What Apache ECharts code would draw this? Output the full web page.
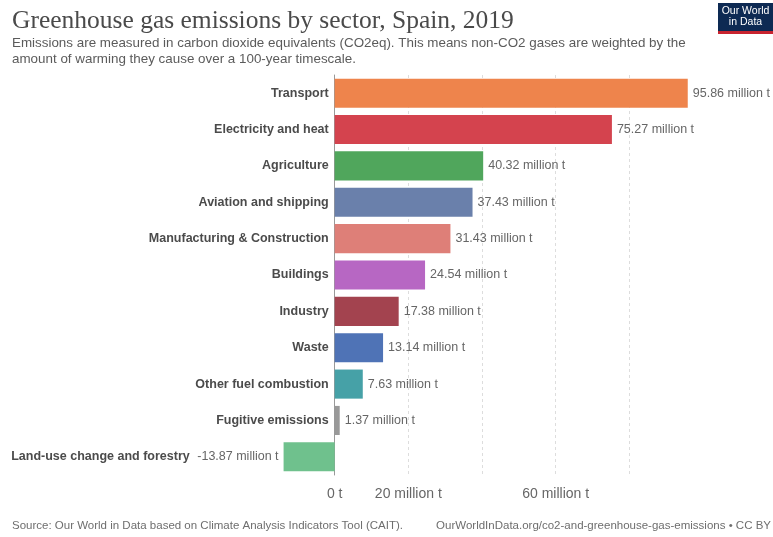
<!DOCTYPE html>
<html>
<head>
<meta charset="utf-8">
<script src="https://cdn.jsdelivr.net/npm/echarts@6/dist/echarts.min.js"></script>
<style>
html,body{margin:0;padding:0;background:#fff;}
#chart{width:773px;height:537px;}
</style>
</head>
<body>
<div id="chart"></div>
<script>
const categories = ["Transport","Electricity and heat","Agriculture","Aviation and shipping","Manufacturing & Construction","Buildings","Industry","Waste","Other fuel combustion","Fugitive emissions","Land-use change and forestry"];
const values = [95.86, 75.27, 40.32, 37.43, 31.43, 24.54, 17.38, 13.14, 7.63, 1.37, -13.87];
const colors = ["#ee844c","#d4434e","#50a65c","#6a80ab","#de7f78","#b767c3","#a3434f","#4f73b6","#46a1a7","#999999","#6fc18d"];
const tickValues = [-20, 0, 20, 40, 60, 80, 100];
const tickLabels = {"0":"0 t","20":"20 million t","60":"60 million t"};
const gridLineValues = [20, 40, 60, 80];

const chart = echarts.init(document.getElementById('chart'));
const sans = '"Liberation Sans", Arial, sans-serif';

chart.setOption({
  animation: false,
  textStyle: {fontFamily: sans},
  title: [
    {text: 'Greenhouse gas emissions by sector, Spain, 2019', left: 7, top: 3,
     textStyle: {fontFamily: '"Liberation Serif", "DejaVu Serif", serif', fontWeight: 'normal', fontSize: 25.5, color: '#4a4a4a'}},
    {text: 'Emissions are measured in carbon dioxide equivalents (CO2eq). This means non-CO2 gases are weighted by the\namount of warming they cause over a 100-year timescale.', left: 7, top: 30,
     textStyle: {fontFamily: sans, fontWeight: 'normal', fontSize: 13.4, color: '#5b5b5b', lineHeight: 16}},
    {text: 'Source: Our World in Data based on Climate Analysis Indicators Tool (CAIT).', left: 7, top: 515,
     textStyle: {fontFamily: sans, fontWeight: 'normal', fontSize: 11.5, color: '#6e6e6e'}},
    {text: 'OurWorldInData.org/co2-and-greenhouse-gas-emissions • CC BY', right: -3, top: 515,
     textStyle: {fontFamily: sans, fontWeight: 'normal', fontSize: 11.5, color: '#6e6e6e'}}
  ],
  graphic: [
    {type: 'rect', shape: {x: 718, y: 3, width: 55, height: 30}, style: {fill: '#0d2a53'}},
    {type: 'rect', shape: {x: 718, y: 31, width: 55, height: 3}, style: {fill: '#c8232f'}},
    {type: 'text', x: 745.5, y: 6, style: {text: 'Our World\nin Data', fill: '#fff', font: '10.5px "Liberation Sans Narrow", "Liberation Sans", Arial, sans-serif', align: 'center', lineHeight: 11}}
  ],
  grid: {left: 261, width: 442, top: 75, height: 400, containLabel: false, outerBoundsMode: 'none'},
  xAxis: {
    type: 'value', min: tickValues[0], max: tickValues[tickValues.length - 1], interval: 20,
    axisLine: {show: false}, axisTick: {show: false},
    axisLabel: {margin: 12, fontSize: 14, color: '#666',
      formatter: v => tickLabels[String(v)] || ''},
    splitLine: {show: true, lineStyle: {type: [3, 3], width: 1,
      color: tickValues.map(v => gridLineValues.includes(v) ? '#dddddd' : 'rgba(0,0,0,0)')}}
  },
  yAxis: {
    type: 'category', data: categories, inverse: true, offset: -73.7,
    axisLine: {show: true, onZero: false, lineStyle: {color: '#999', width: 1}},
    axisTick: {show: false},
    axisLabel: {margin: 6, fontSize: 12.5, fontWeight: 'bold', color: '#4b4b4b',
      formatter: (v, i) => values[i] < 0 ? '{neg|' + v + '}' : v,
      rich: {neg: {fontSize: 12.5, fontWeight: 'bold', color: '#4b4b4b', padding: [0, 139, 0, 0]}}}
  },
  series: [{
    type: 'bar', barCategoryGap: '20%', z: 1,
    data: values.map((v, i) => ({value: v, itemStyle: {color: colors[i]},
      label: {position: v < 0 ? 'left' : 'right'}})),
    label: {show: true, distance: 5, fontSize: 12.5, color: '#666',
      formatter: p => p.value.toFixed(2) + ' million t'}
  }]
});
</script>
</body>
</html>
